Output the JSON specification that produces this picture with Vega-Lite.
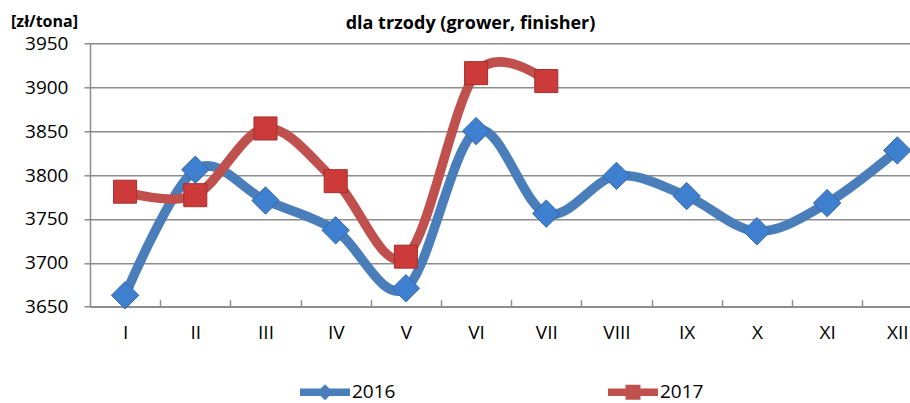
{
  "$schema": "https://vega.github.io/schema/vega-lite/v6.json",
  "autosize": {"type": "none"},
  "padding": {"left": 90, "top": 43.3, "right": 0, "bottom": 96.3},
  "width": 820,
  "height": 263.4,
  "background": "white",
  "config": {
    "font": "Open Sans",
    "view": {"stroke": null},
    "axis": {"labelFont": "Open Sans", "titleFont": "Open Sans", "labelColor": "#000", "titleColor": "#000"}
  },
  "data": {
    "values": [
      {"m": 1, "year": "2016", "value": 3663},
      {"m": 2, "year": "2016", "value": 3806},
      {"m": 3, "year": "2016", "value": 3771},
      {"m": 4, "year": "2016", "value": 3737},
      {"m": 5, "year": "2016", "value": 3671},
      {"m": 6, "year": "2016", "value": 3850},
      {"m": 7, "year": "2016", "value": 3756},
      {"m": 8, "year": "2016", "value": 3799},
      {"m": 9, "year": "2016", "value": 3776},
      {"m": 10, "year": "2016", "value": 3736},
      {"m": 11, "year": "2016", "value": 3768},
      {"m": 12, "year": "2016", "value": 3828},
      {"m": 1, "year": "2017", "value": 3781},
      {"m": 2, "year": "2017", "value": 3777},
      {"m": 3, "year": "2017", "value": 3853},
      {"m": 4, "year": "2017", "value": 3793},
      {"m": 5, "year": "2017", "value": 3707},
      {"m": 6, "year": "2017", "value": 3916},
      {"m": 7, "year": "2017", "value": 3907}
    ]
  },
  "encoding": {
    "y": {
      "field": "value", "type": "quantitative",
      "scale": {"domain": [3650, 3950], "nice": false, "zero": false},
      "axis": {
        "values": [3650, 3700, 3750, 3800, 3850, 3900, 3950],
        "format": "d",
        "grid": true, "gridColor": "#8c8c8c", "gridWidth": 1.5,
        "domainColor": "#8c8c8c", "domainWidth": 1.5,
        "tickColor": "#8c8c8c", "tickWidth": 1.5, "tickSize": 6,
        "labelFontSize": 19, "labelPadding": 16, "labelFlush": false,
        "title": "[zł/tona]", "titleAngle": 0, "titleAlign": "center",
        "titleBaseline": "alphabetic", "titleX": -46, "titleY": -17,
        "titleFontSize": 16, "titleFontWeight": "bold"
      }
    }
  },
  "resolve": {"axis": {"x": "independent"}},
  "layer": [
    {
      "mark": {"type": "line", "interpolate": "cardinal", "strokeWidth": 9.5, "strokeCap": "butt"},
      "encoding": {
        "x": {
          "field": "m", "type": "quantitative",
          "scale": {"domain": [0.5, 12.181], "nice": false, "zero": false},
          "axis": {
            "orient": "bottom",
            "values": [1, 2, 3, 4, 5, 6, 7, 8, 9, 10, 11, 12],
            "labelExpr": "['','I','II','III','IV','V','VI','VII','VIII','IX','X','XI','XII'][datum.value]",
            "ticks": true, "tickSize": -7, "tickWidth": 1.5, "tickColor": "#8c8c8c",
            "tickOffset": 35.1, "labelOffset": -35.1,
            "grid": false,
            "title": null,
            "domainColor": "#8c8c8c", "domainWidth": 1.5,
            "labelFontSize": 19, "labelPadding": 24, "labelFlush": false, "labelOverlap": false
          }
        },
        "color": {
          "field": "year", "type": "nominal",
          "scale": {"domain": ["2016", "2017"], "range": ["#4A7EBB", "#C0504D"]},
          "legend": {
            "title": null, "orient": "none", "direction": "horizontal",
            "legendX": 210, "legendY": 324, "padding": 0,
            "symbolSize": 2500,
            "labelFontSize": 19, "labelFont": "Open Sans", "labelColor": "#000",
            "labelOffset": 2, "columnPadding": 212,
            "encode": {
              "symbols": {
                "update": {
                  "shape": {"signal": "datum.value === '2016' ? 'M-1,-0.15L1,-0.15L1,0.15L-1,0.15Z M0,-0.32L0.32,0L0,0.32L-0.32,0Z' : 'M-1,-0.15L1,-0.15L1,0.15L-1,0.15Z M-0.3,-0.3L0.3,-0.3L0.3,0.3L-0.3,0.3Z'"},
                  "fill": {"signal": "datum.value === '2016' ? '#4A7EBB' : '#C0504D'"},
                  "stroke": {"value": "transparent"},
                  "strokeWidth": {"value": 0},
                  "opacity": {"value": 1},
                  "fillOpacity": {"value": 1}
                }
              }
            }
          }
        }
      }
    },
    {
      "transform": [{"filter": "datum.year === '2016'"}],
      "mark": {"type": "point", "shape": "diamond", "filled": true, "size": 750, "opacity": 1, "fill": "#3F7FCF", "stroke": "#3568a8", "strokeWidth": 1},
      "encoding": {
        "x": {
          "field": "m", "type": "quantitative",
          "axis": {
            "orient": "top",
            "labels": false, "ticks": false, "domain": false, "grid": false,
            "title": "dla trzody (grower, finisher)",
            "titleX": 380, "titleY": -15, "titleAlign": "center", "titleBaseline": "alphabetic",
            "titleFontSize": 18, "titleFontWeight": "bold", "titleFont": "Open Sans", "titleColor": "#000"
          }
        }
      }
    },
    {
      "transform": [{"filter": "datum.year === '2017'"}],
      "mark": {"type": "point", "shape": "square", "filled": true, "size": 530, "opacity": 1, "fill": "#CC3A3A", "stroke": "#a3302d", "strokeWidth": 1},
      "encoding": {
        "x": {"field": "m", "type": "quantitative", "axis": null}
      }
    }
  ]
}
